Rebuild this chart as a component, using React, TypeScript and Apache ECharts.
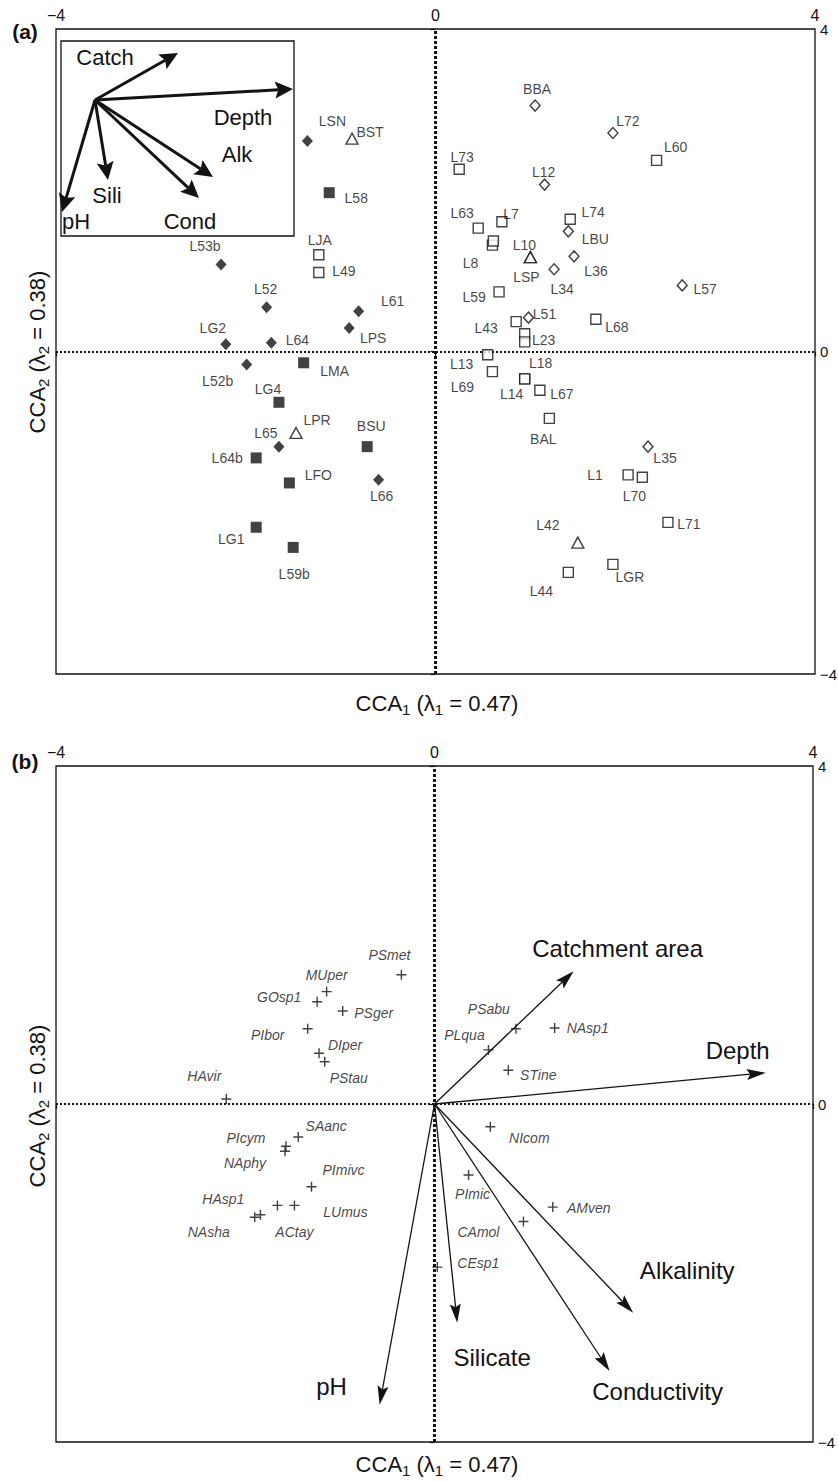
import React, { useEffect, useRef } from "react";
import * as echarts from "echarts";

type P = [string, number, number];

// ---------- Panel (a): site scores ----------
const filledDiamonds: P[] = [
  ["LSN", -1.35, 2.61], ["L53b", -2.26, 1.08], ["L52", -1.78, 0.55], ["L61", -0.81, 0.5],
  ["LPS", -0.91, 0.29], ["LG2", -2.21, 0.09], ["L64", -1.73, 0.11], ["L52b", -1.99, -0.16],
  ["L65", -1.65, -1.18], ["L66", -0.6, -1.59],
];
const filledSquares: P[] = [
  ["L58", -1.12, 1.97], ["LMA", -1.39, -0.14], ["LG4", -1.65, -0.63], ["BSU", -0.72, -1.18],
  ["L64b", -1.89, -1.32], ["LFO", -1.54, -1.63], ["LG1", -1.89, -2.18], ["L59b", -1.5, -2.43],
];
const openTriangles: P[] = [
  ["BST", -0.88, 2.64], ["LPR", -1.47, -1.01], ["L10", 1.0, 1.17], ["LSP", 1.0, 1.17], ["L42", 1.5, -2.37],
];
const openSquares: P[] = [
  ["LJA", -1.23, 1.2], ["L49", -1.23, 0.98], ["L73", 0.25, 2.26], ["L60", 2.33, 2.37],
  ["L63", 0.45, 1.53], ["L7", 0.7, 1.61], ["L8", 0.6, 1.32], ["", 0.61, 1.37],
  ["L74", 1.42, 1.64], ["L59", 0.67, 0.74], ["L43", 0.85, 0.37], ["", 0.94, 0.22],
  ["L23", 0.94, 0.12], ["L68", 1.69, 0.4], ["L13", 0.55, -0.04], ["L69", 0.6, -0.25],
  ["L18", 0.94, -0.34], ["L14", 0.94, -0.34], ["L67", 1.1, -0.48], ["BAL", 1.2, -0.83],
  ["L1", 2.03, -1.53], ["L70", 2.18, -1.56], ["L71", 2.45, -2.12], ["LGR", 1.87, -2.64],
  ["L44", 1.4, -2.74],
];
const openDiamonds: P[] = [
  ["BBA", 1.05, 3.05], ["L72", 1.87, 2.71], ["L12", 1.15, 2.07], ["LBU", 1.4, 1.49],
  ["L36", 1.46, 1.18], ["L34", 1.25, 1.02], ["L57", 2.6, 0.82], ["L51", 0.98, 0.42],
  ["L35", 2.24, -1.18],
];

// inset legend vectors (arbitrary inset units, origin at 0,0)
const insetVectors: P[] = [
  ["Catch", 83, 47], ["Depth", 198, 11], ["Alk", 118, -77],
  ["Cond", 104, -98], ["Sili", 13, -80], ["pH", -33, -112],
];

// ---------- Panel (b): environmental vectors and species ----------
const envVectors: P[] = [
  ["Catchment area", 1.47, 1.57], ["Depth", 3.5, 0.37], ["Alkalinity", 2.1, -2.47],
  ["Conductivity", 1.85, -3.16], ["Silicate", 0.24, -2.59], ["pH", -0.58, -3.56],
];
const species: P[] = [
  ["PSmet", -0.35, 1.53], ["MUper", -1.14, 1.33], ["GOsp1", -1.24, 1.21], ["PSger", -0.97, 1.1],
  ["PIbor", -1.34, 0.89], ["DIper", -1.22, 0.6], ["PStau", -1.16, 0.5], ["HAvir", -2.2, 0.06],
  ["SAanc", -1.44, -0.39], ["PIcym", -1.57, -0.5], ["NAphy", -1.58, -0.56], ["PImivc", -1.3, -0.98],
  ["LUmus", -1.48, -1.2], ["ACtay", -1.66, -1.2], ["HAsp1", -1.84, -1.31], ["NAsha", -1.9, -1.34],
  ["PSabu", 0.86, 0.89], ["PLqua", 0.57, 0.64], ["NAsp1", 1.27, 0.9], ["STine", 0.78, 0.4],
  ["NIcom", 0.59, -0.27], ["PImic", 0.36, -0.84], ["AMven", 1.25, -1.22], ["CAmol", 0.94, -1.39],
  ["CEsp1", 0.03, -1.93],
];

const axisTicks = [-4, 0, 4];
const xTitleParts = ["CCA", "1", " (λ", "1", " = 0.47)"];
const yTitleParts = ["CCA", "2", " (λ", "2", " = 0.38)"];

// label offsets (pixels, label centre relative to marker centre)
const siteLabelOffsets: Record<string, [number, number]> = {
  LSN: [25, -20], BST: [18, -7], L58: [27, 5], LJA: [1, -15], L49: [25, -1], L53b: [-16, -18],
  L52: [-1, -18], L61: [34, -10], LPS: [24, 10], LG2: [-13, -16], L64: [26, -3], L52b: [-29, 17],
  LMA: [31, 8], LG4: [-11, -13], LPR: [21, -13], L65: [-13, -14], BSU: [4, -21], L64b: [-29, 0],
  LFO: [29, -8], L66: [3, 16], LG1: [-25, 12], L59b: [1, 27],
  BBA: [2, -17], L72: [15, -12], L60: [19, -13], L73: [3, -12], L12: [-1, -13], L63: [-16, -15],
  L7: [9, -8], L8: [-22, 18], L74: [23, -7], LBU: [27, 8], L10: [-6, -12], LSP: [-4, 20],
  L36: [22, 15], L34: [8, 20], L57: [23, 4], L59: [-25, 5], L43: [-30, 6], L51: [16, -4],
  L68: [21, 8], L23: [19, -2], L13: [-26, 9], L69: [-30, 15], L18: [16, -16], L14: [-13, 15],
  L67: [22, 4], BAL: [-6, 21], L35: [17, 11], L1: [-33, 0], L70: [-8, 19], L71: [21, 2],
  L42: [-30, -18], LGR: [17, 13], L44: [-27, 19],
};
const insetLabelOffsets: Record<string, [number, number]> = {
  Catch: [-73, 4], Depth: [-50, 28], Alk: [24, -23], Cond: [-9, 23], Sili: [-1, 15], pH: [14, 9],
};
const envLabelOffsets: Record<string, [number, number]> = {
  "Catchment area": [44, -23], Depth: [-28, -22], Alkalinity: [54, -42],
  Conductivity: [48, 20], Silicate: [35, 35], pH: [-48, -18],
};
const speciesLabelOffsets: Record<string, [number, number]> = {
  PSmet: [-12, -20], MUper: [0, -17], GOsp1: [-38, -5], PSger: [31, 2], PIbor: [-40, 6],
  DIper: [26, -8], PStau: [24, 16], HAvir: [-22, -23], SAanc: [28, -11], PIcym: [-40, -8],
  NAphy: [-40, 12], PImivc: [32, -17], LUmus: [51, 7], ACtay: [17, 27], HAsp1: [-37, -16],
  NAsha: [-46, 15], PSabu: [-27, -20], PLqua: [-24, -15], NAsp1: [33, 0], STine: [30, 5],
  NIcom: [39, 11], PImic: [4, 19], AMven: [36, 1], CAmol: [-45, 11], CEsp1: [41, -4],
};

const INK = "#141213";
const FONT = '"Liberation Sans", Arial, Helvetica, sans-serif';
const PLUS = "path://M4.3,0H5.7V4.3H10V5.7H5.7V10H4.3V5.7H0V4.3H4.3Z";

const fmt = (v: number) => (v < 0 ? "\u2212" + Math.abs(v) : String(v));

function titleRich(parts: string[]) {
  return {
    text: `{m|${parts[0]}}{s|${parts[1]}}{m|${parts[2]}}{s|${parts[3]}}{m|${parts[4]}}`,
    rich: {
      m: { fontSize: 22, lineHeight: 28, fill: INK, fontFamily: FONT },
      s: { fontSize: 15, lineHeight: 15, verticalAlign: "bottom", fill: INK, fontFamily: FONT },
    },
    align: "center",
    verticalAlign: "middle",
  };
}

function siteSeries(
  data: P[],
  symbol: string,
  size: number | number[],
  filled: boolean,
  extra: any = {}
) {
  return {
    type: "scatter",
    xAxisIndex: 0,
    yAxisIndex: 0,
    symbol,
    symbolSize: size,
    itemStyle: filled
      ? { color: INK }
      : { color: "#ffffff", borderColor: INK, borderWidth: 1.4 },
    label: {
      show: true,
      position: "inside",
      formatter: "{b}",
      color: INK,
      fontSize: 14,
      fontFamily: FONT,
    },
    data: data.map(([n, x, y]) => ({
      name: n,
      value: [x, y],
      label: n ? { offset: siteLabelOffsets[n] || [0, 0] } : { show: false },
    })),
    z: 5,
    ...extra,
  };
}

function arrowSeries(
  vecs: P[],
  offsets: Record<string, [number, number]>,
  axisIndex: number,
  o: { lw: number; headL: number; headW: number; fs: number }
) {
  return {
    type: "custom",
    xAxisIndex: axisIndex,
    yAxisIndex: axisIndex,
    clip: false,
    z: 4,
    data: vecs.map(([, x, y]) => [x, y]),
    encode: { x: 0, y: 1 },
    renderItem: (params: any, api: any) => {
      const [name, vx, vy] = vecs[params.dataIndex];
      const p0 = api.coord([0, 0]);
      const p1 = api.coord([vx, vy]);
      const dx = p1[0] - p0[0];
      const dy = p1[1] - p0[1];
      const len = Math.hypot(dx, dy) || 1;
      const ux = dx / len;
      const uy = dy / len;
      const nx = -uy;
      const ny = ux;
      const bx = p1[0] - ux * o.headL;
      const by = p1[1] - uy * o.headL;
      const notch = o.headL * 0.18;
      const sx = bx + ux * notch;
      const sy = by + uy * notch;
      const off = offsets[name] || [0, 0];
      return {
        type: "group",
        children: [
          {
            type: "line",
            shape: { x1: p0[0], y1: p0[1], x2: sx, y2: sy },
            style: { stroke: INK, lineWidth: o.lw },
          },
          {
            type: "polygon",
            shape: {
              points: [
                [p1[0], p1[1]],
                [bx + (nx * o.headW) / 2, by + (ny * o.headW) / 2],
                [sx, sy],
                [bx - (nx * o.headW) / 2, by - (ny * o.headW) / 2],
              ],
            },
            style: { fill: INK },
          },
          {
            type: "text",
            x: p1[0] + off[0],
            y: p1[1] + off[1],
            style: {
              text: name,
              fill: INK,
              fontSize: o.fs,
              fontFamily: FONT,
              align: "center",
              verticalAlign: "middle",
            },
          },
        ],
      };
    },
  };
}

const zeroLines = {
  silent: true,
  symbol: "none",
  label: { show: false },
  emphasis: { disabled: true },
  data: [
    { xAxis: 0, lineStyle: { color: INK, width: 3, type: [3, 2] } },
    { yAxis: 0, lineStyle: { color: INK, width: 2, type: [2, 2] } },
  ],
};

function panelXAxis(gridIndex: number) {
  return {
    gridIndex,
    type: "value",
    position: "top",
    min: -4,
    max: 4,
    interval: 4,
    axisLine: { show: false },
    axisTick: { show: true, inside: true, length: 5, lineStyle: { color: INK, width: 1.2 } },
    splitLine: { show: false },
    axisLabel: {
      color: INK,
      fontSize: 16,
      fontFamily: FONT,
      margin: 6,
      formatter: (v: number) => (axisTicks.includes(v) ? fmt(v) : ""),
    },
  };
}
function panelYAxis(gridIndex: number) {
  return {
    gridIndex,
    type: "value",
    position: "right",
    min: -4,
    max: 4,
    interval: 4,
    axisLine: { show: false },
    axisTick: { show: true, inside: true, length: 5, lineStyle: { color: INK, width: 1.2 } },
    splitLine: { show: false },
    axisLabel: {
      color: INK,
      fontSize: 15,
      fontFamily: FONT,
      margin: 5,
      formatter: (v: number) => (axisTicks.includes(v) ? fmt(v) : ""),
    },
  };
}

export default function App() {
  const ref = useRef<HTMLDivElement>(null);

  useEffect(() => {
    document.body.style.margin = "0";
    if (!ref.current) return;
    const chart = echarts.init(ref.current, undefined, { renderer: "svg" });

    const option: any = {
      animation: false,
      backgroundColor: "#ffffff",
      textStyle: { fontFamily: FONT, color: INK },
      grid: [
        {
          left: 56, top: 29, width: 759, height: 645,
          show: true, borderColor: INK, borderWidth: 1.3, backgroundColor: "transparent",
          outerBoundsMode: "none", containLabel: false,
        },
        {
          left: 61, top: 41, width: 233, height: 195,
          show: true, borderColor: INK, borderWidth: 1.3, backgroundColor: "#ffffff",
          outerBoundsMode: "none", containLabel: false, z: 3,
        },
        {
          left: 56, top: 766, width: 757, height: 676,
          show: true, borderColor: INK, borderWidth: 1.3, backgroundColor: "transparent",
          outerBoundsMode: "none", containLabel: false,
        },
      ],
      xAxis: [
        panelXAxis(0),
        { gridIndex: 1, type: "value", min: -34, max: 199, show: false },
        panelXAxis(2),
      ],
      yAxis: [
        panelYAxis(0),
        { gridIndex: 1, type: "value", min: -136, max: 59, show: false },
        panelYAxis(2),
      ],
      series: [
        siteSeries(filledDiamonds, "diamond", [11, 12], true, { markLine: zeroLines }),
        siteSeries(filledSquares, "rect", 11, true),
        siteSeries(openSquares, "rect", 10, false),
        siteSeries(openDiamonds, "diamond", [10, 11], false),
        siteSeries(openTriangles, "triangle", [12, 11], false),
        arrowSeries(insetVectors, insetLabelOffsets, 1, { lw: 3, headL: 18, headW: 17, fs: 22 }),
        arrowSeries(envVectors, envLabelOffsets, 2, { lw: 1.3, headL: 19, headW: 11, fs: 24 }),
        {
          type: "scatter",
          xAxisIndex: 2,
          yAxisIndex: 2,
          symbol: PLUS,
          symbolSize: 10,
          itemStyle: { color: INK },
          label: {
            show: true,
            position: "inside",
            formatter: "{b}",
            color: INK,
            fontSize: 14,
            fontStyle: "italic",
            fontFamily: FONT,
          },
          data: species.map(([n, x, y]) => ({
            name: n,
            value: [x, y],
            label: { offset: speciesLabelOffsets[n] || [0, 0] },
          })),
          markLine: zeroLines,
          z: 5,
        },
      ],
      graphic: [
        {
          type: "text", x: 25, y: 31,
          style: { text: "(a)", fill: INK, fontSize: 21, fontWeight: "bold", fontFamily: FONT, align: "center", verticalAlign: "middle" },
        },
        {
          type: "text", x: 25, y: 761,
          style: { text: "(b)", fill: INK, fontSize: 21, fontWeight: "bold", fontFamily: FONT, align: "center", verticalAlign: "middle" },
        },
        { type: "text", x: 437, y: 703, style: titleRich(xTitleParts) },
        { type: "text", x: 437, y: 1464, style: titleRich(xTitleParts) },
        { type: "text", x: 37, y: 352, rotation: Math.PI / 2, style: titleRich(yTitleParts) },
        { type: "text", x: 37, y: 1106, rotation: Math.PI / 2, style: titleRich(yTitleParts) },
      ],
    };

    chart.setOption(option);
    return () => chart.dispose();
  }, []);

  return <div ref={ref} style={{ width: 838, height: 1482 }} />;
}
